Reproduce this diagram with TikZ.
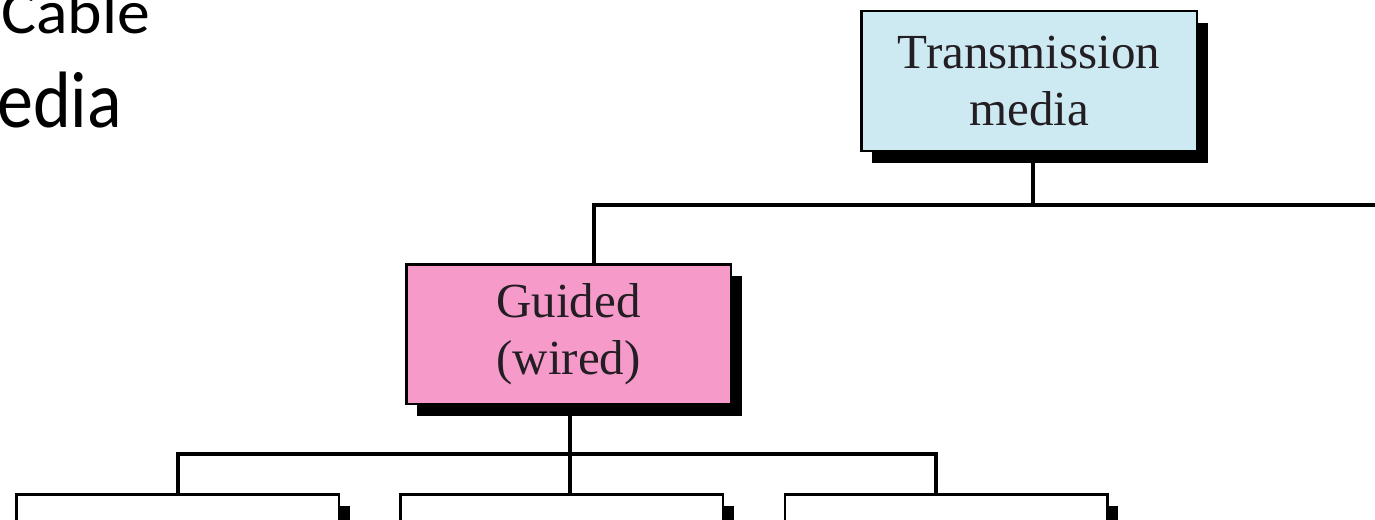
\documentclass[tikz,border=0pt]{standalone}
\usepackage{graphicx}
\usepackage{fontspec}
\setmainfont{Liberation Serif}
\newfontfamily\slidefont{Carlito}
\usetikzlibrary{shadows}
\definecolor{mediablue}{RGB}{205,234,242}
\definecolor{guidedpink}{RGB}{246,154,202}
\definecolor{boxtext}{RGB}{35,30,35}
\begin{document}
\begin{tikzpicture}[x=1pt,y=-1pt,
  box/.style={draw=black, line width=2.5pt, rectangle, align=center, inner sep=0pt,
    minimum width=323pt, minimum height=139.5pt,
    font=\fontsize{49}{57}\selectfont, text=boxtext,
    general shadow={fill=black, shadow xshift=11pt, shadow yshift=-12pt}},
  link/.style={draw=black, line width=4.5pt, line join=miter},
  slide/.style={anchor=base west, inner sep=0pt, text=black}
]
\useasboundingbox (0,0) rectangle (1375,519);
\clip (0,0) rectangle (1375,519);

% slide title fragments
\node[slide] (title1) at (1,34) {\scalebox{1.06}[1]{\fontsize{62}{62}\slidefont Cable}};
\node[slide] (title2) at (-3,127) {\scalebox{0.9}[1]{\fontsize{80}{80}\slidefont edia}};

% tree of media
\node[box, fill=mediablue, minimum width=335.5pt] (tm) at (1029,81) {Transmission\\media};
\node[box, fill=guidedpink, minimum width=324.5pt] (gd) at (568.5,334) {Guided\\(wired)};
\node[box, fill=white, minimum width=322.5pt] (c1) at (177.5,564) {};
\node[box, fill=white, minimum width=322.5pt] (c2) at (561.5,564) {};
\node[box, fill=white, minimum width=322.5pt] (c3) at (946,564) {};

% connectors
\coordinate (topjoin) at (1033,205);
\coordinate (topleft) at (594,205);
\coordinate (topright) at (1385,205);
\coordinate (b1) at (178,454);
\coordinate (b2) at (570,454);
\coordinate (b3) at (936,454);

\draw[link] (tm.south -| topjoin) -- (topjoin);
\draw[link] (topright) -- (topleft) -- (gd.north -| topleft);
\draw[link] (gd.south -| b2) -- (c2.north -| b2);
\draw[link] (c1.north -| b1) -- (b1) -- (b3) -- (c3.north -| b3);
\end{tikzpicture}
\end{document}
